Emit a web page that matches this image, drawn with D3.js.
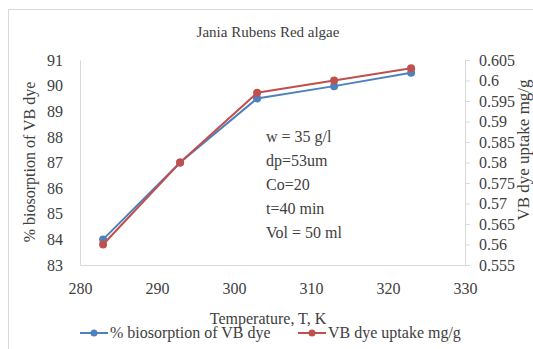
<!DOCTYPE html>
<html>
<head>
<meta charset="utf-8">
<script src="https://cdn.jsdelivr.net/npm/d3@7"></script>
<style>
  body { margin: 0; background: #fff; }
</style>
</head>
<body>
<div id="chart"></div>
<script>
// data
const temperature = [283, 293, 303, 313, 323];
const biosorption = [84.0, 87.0, 89.5, 89.98, 90.5];
const uptake = [0.560, 0.580, 0.597, 0.600, 0.603];
const leftTicks = [83, 84, 85, 86, 87, 88, 89, 90, 91];
const rightTicks = [0.555, 0.56, 0.565, 0.57, 0.575, 0.58, 0.585, 0.59, 0.595, 0.6, 0.605];
const xTicks = [280, 290, 300, 310, 320, 330];
const notes = ["w = 35 g/l", "dp=53um", "Co=20", "t=40 min", "Vol = 50 ml"];

var FONT = "'Liberation Serif'";
var W = 533, H = 349;
var margin = {top: 60, right: 68, bottom: 84, left: 80},
  width = W - margin.left - margin.right,
  height = H - margin.top - margin.bottom;

var svg = d3.select("#chart")
  .append("svg")
  .attr("width", W)
  .attr("height", H)
  .style("font-family", FONT);

function label(sel, size) {
  return sel.style("font-family", FONT)
    .style("font-size", size + "px")
    .style("fill", "#404040");
}

// outer chart border (cut off at right and bottom)
svg.append("rect")
  .attr("x", 8.5).attr("y", 9.5)
  .attr("width", 540).attr("height", 360)
  .attr("fill", "none")
  .attr("stroke", "#d9d9d9");

label(svg.append("text"), 15)
  .attr("x", 268).attr("y", 37)
  .attr("text-anchor", "middle")
  .text("Jania Rubens Red algae");

var g = svg.append("g")
  .attr("transform", "translate(" + margin.left + "," + margin.top + ")");

var x = d3.scaleLinear().domain([280, 330]).range([0, width]);
var yL = d3.scaleLinear().domain([83, 91]).range([height, 0]);
var yR = d3.scaleLinear().domain([0.555, 0.605]).range([height, 0]);

// axes
var xAxis = g.append("g")
  .attr("transform", "translate(0," + height + ")")
  .call(d3.axisBottom(x).tickValues(xTicks).tickSize(0).tickPadding(18));

var leftAxis = g.append("g")
  .call(d3.axisLeft(yL).tickValues(leftTicks).tickSize(0).tickPadding(17));

var rightAxis = g.append("g")
  .attr("transform", "translate(" + width + ",0)")
  .call(d3.axisRight(yR).tickValues(rightTicks).tickFormat(d3.format("")).tickSize(5).tickPadding(9));

[xAxis, leftAxis, rightAxis].forEach(function(a) {
  a.attr("font-family", null);
  a.select(".domain").attr("stroke", "#d9d9d9");
  a.selectAll(".tick line").attr("stroke", "#d9d9d9");
  label(a.selectAll(".tick text"), 16);
});

// series
var series = [
  {vals: biosorption, y: yL, color: "#4f81bd"},
  {vals: uptake, y: yR, color: "#c0504d"}
];

series.forEach(function(s) {
  var line = d3.line()
    .x(function(d, i) { return x(temperature[i]); })
    .y(function(d) { return s.y(d); });
  g.append("path")
    .datum(s.vals)
    .attr("fill", "none")
    .attr("stroke", s.color)
    .attr("stroke-width", 2)
    .attr("d", line);
  g.selectAll(null)
    .data(s.vals)
    .enter()
    .append("circle")
      .attr("cx", function(d, i) { return x(temperature[i]); })
      .attr("cy", function(d) { return s.y(d); })
      .attr("r", 4)
      .attr("fill", s.color);
});

// annotation block
label(g.append("g")
  .selectAll("text")
  .data(notes)
  .enter()
  .append("text"), 16)
    .attr("x", 186)
    .attr("y", function(d, i) { return 82 + i * 24; })
    .text(function(d) { return d; });

// axis titles
label(svg.append("text"), 16)
  .attr("transform", "translate(35,162) rotate(-90)")
  .attr("text-anchor", "middle")
  .text("% biosorption of VB dye");

label(svg.append("text"), 17)
  .attr("transform", "translate(529,150) rotate(-90)")
  .attr("text-anchor", "middle")
  .text("VB dye uptake mg/g");

label(svg.append("text"), 16)
  .attr("x", 268).attr("y", 324)
  .attr("text-anchor", "middle")
  .text("Temperature, T, K");

// legend
var legend = [
  {name: "% biosorption of VB dye", color: "#4f81bd", x: 80},
  {name: "VB dye uptake mg/g", color: "#c0504d", x: 298}
];
var lg = svg.append("g").attr("transform", "translate(0,333)");
legend.forEach(function(l) {
  lg.append("line")
    .attr("x1", l.x).attr("x2", l.x + 28)
    .attr("stroke", l.color).attr("stroke-width", 2);
  lg.append("circle")
    .attr("cx", l.x + 14).attr("r", 3.5).attr("fill", l.color);
  label(lg.append("text"), 16)
    .attr("x", l.x + 30).attr("y", 5)
    .text(l.name);
});
</script>
</body>
</html>
